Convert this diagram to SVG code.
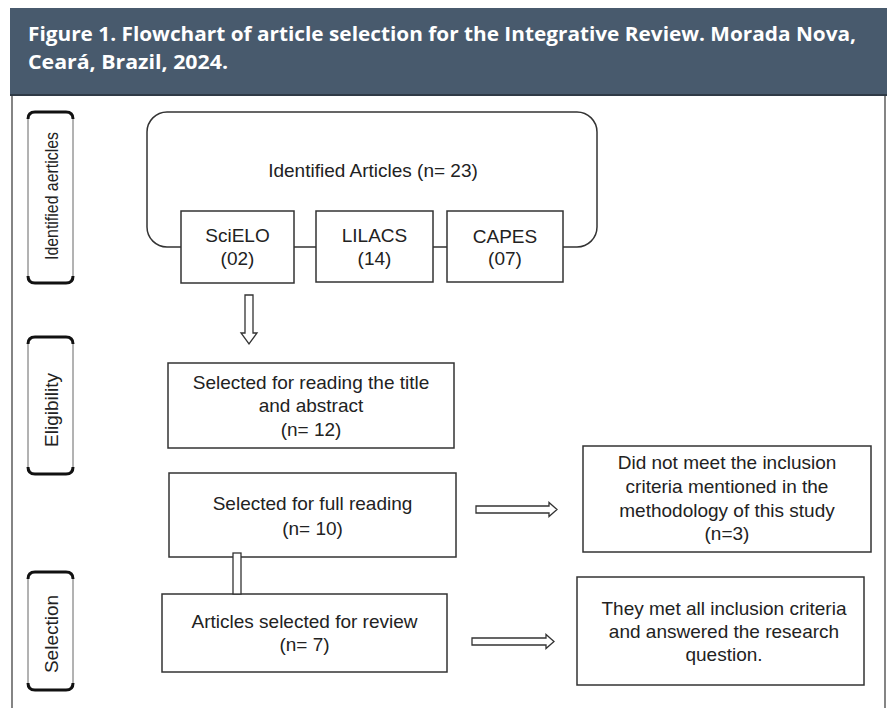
<svg xmlns="http://www.w3.org/2000/svg" width="887" height="708" viewBox="0 0 887 708">
<style>
.box{fill:#fff;stroke:#333;stroke-width:1.5}
.t{font-family:"Liberation Sans",Arial,sans-serif;font-size:19px;fill:#222;text-anchor:middle}
.side{fill:#fff;stroke:#666;stroke-width:1}
.edge{fill:none;stroke:#111;stroke-width:3}
.arr{fill:#fff;stroke:#333;stroke-width:1.3;stroke-linejoin:miter}
.title{font-family:"Open Sans","Noto Sans",sans-serif;font-weight:700;font-size:20px;fill:#fff}
</style>
<rect x="0" y="0" width="887" height="708" fill="#fff"/>
<g id="header">
<rect x="10" y="8" width="877" height="87" fill="#485a6d"/>
<line x1="10" y1="95" x2="887" y2="95" stroke="#2f3a46" stroke-width="2"/>
<text class="title" x="28" y="41" textLength="828" lengthAdjust="spacingAndGlyphs">Figure 1. Flowchart of article selection for the Integrative Review. Morada Nova,</text>
<text class="title" x="28" y="69" textLength="200" lengthAdjust="spacingAndGlyphs">Ceará, Brazil, 2024.</text>
</g>
<g id="frame" fill="none" stroke="#333" stroke-width="1.2">
<line x1="12" y1="96" x2="12" y2="708"/>
<line x1="885" y1="96" x2="885" y2="708"/>
</g>
<g id="label-identified">
<rect class="side" x="28" y="112" width="45" height="171" rx="6"/>
<path class="edge" d="M28,119 Q28,112 35,112 H66 Q73,112 73,119"/>
<path class="edge" d="M28,276 Q28,283 35,283 H66 Q73,283 73,276"/>
<text class="t" transform="translate(58,196) rotate(-90)" textLength="128" lengthAdjust="spacingAndGlyphs">Identified aerticles</text>
</g>
<g id="label-eligibility">
<rect class="side" x="28" y="337" width="45" height="137" rx="6"/>
<path class="edge" d="M28,344 Q28,337 35,337 H66 Q73,337 73,344"/>
<path class="edge" d="M28,467 Q28,474 35,474 H66 Q73,474 73,467"/>
<text class="t" transform="translate(58,410) rotate(-90)">Eligibility</text>
</g>
<g id="label-selection">
<rect class="side" x="28" y="572" width="45" height="118" rx="6"/>
<path class="edge" d="M28,579 Q28,572 35,572 H66 Q73,572 73,579"/>
<path class="edge" d="M28,683 Q28,690 35,690 H66 Q73,690 73,683"/>
<text class="t" transform="translate(58,634) rotate(-90)">Selection</text>
</g>
<g id="identified-articles">
<rect x="147" y="112" width="450" height="135" rx="20" fill="#fff" stroke="#333" stroke-width="1.5"/>
<text class="t" x="373" y="177">Identified Articles (n= 23)</text>
</g>
<g id="scielo">
<rect class="box" x="181" y="211" width="113" height="72"/>
<text class="t" x="237.5" y="242">SciELO</text>
<text class="t" x="237.5" y="265">(02)</text>
</g>
<g id="lilacs">
<rect class="box" x="316" y="211" width="117" height="71"/>
<text class="t" x="374.5" y="242">LILACS</text>
<text class="t" x="374.5" y="265">(14)</text>
</g>
<g id="capes">
<rect class="box" x="447" y="211" width="116" height="71"/>
<text class="t" x="505" y="243">CAPES</text>
<text class="t" x="505" y="265">(07)</text>
</g>
<g id="title-abstract">
<rect class="box" x="168" y="363" width="286" height="85"/>
<text class="t" x="311" y="389">Selected for reading the title</text>
<text class="t" x="311" y="412">and abstract</text>
<text class="t" x="311" y="436">(n= 12)</text>
</g>
<g id="full-reading">
<rect class="box" x="169" y="473" width="287" height="84"/>
<text class="t" x="312.5" y="510">Selected for full reading</text>
<text class="t" x="312.5" y="535">(n= 10)</text>
</g>
<g id="selected-review">
<rect class="box" x="162" y="594" width="285" height="78"/>
<text class="t" x="304.5" y="628">Articles selected for review</text>
<text class="t" x="304.5" y="651">(n= 7)</text>
</g>
<g id="excluded">
<rect class="box" x="583" y="446" width="288" height="106"/>
<text class="t" x="727" y="469">Did not meet the inclusion</text>
<text class="t" x="727" y="493">criteria mentioned in the</text>
<text class="t" x="727" y="517">methodology of this study</text>
<text class="t" x="727" y="540">(n=3)</text>
</g>
<g id="included">
<rect class="box" x="577" y="577" width="287" height="108"/>
<text class="t" x="724" y="615">They met all inclusion criteria</text>
<text class="t" x="724" y="638">and answered the research</text>
<text class="t" x="724" y="661">question.</text>
</g>
<g id="connectors">
<polygon class="arr" points="245,295 253,295 253,333 257,333 249,344 241,333 245,333"/>
<rect class="arr" x="233" y="553" width="8" height="41"/>
<polygon class="arr" points="476,506 549,506 549,502.5 557,509.5 549,516.5 549,513 476,513"/>
<polygon class="arr" points="472,638 546,638 546,634.5 554,641.5 546,648.5 546,645 472,645"/>
</g>
</svg>
